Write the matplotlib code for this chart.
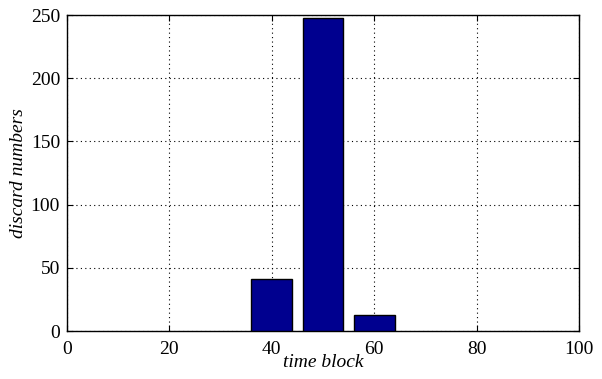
import matplotlib
matplotlib.use("Agg")
import matplotlib.pyplot as plt

time_block = [40, 50, 60]
discard = [41, 248, 13]

plt.rcParams["font.family"] = ["Liberation Serif", "DejaVu Serif"]

fig = plt.figure(figsize=(6.02, 3.79), dpi=100)
ax = fig.add_axes([0.1113, 0.1266, 0.8505, 0.8338])

ax.bar(time_block, discard, width=8, color="#00008F", edgecolor="black", linewidth=1.0, zorder=3)

ax.set_xlim(0, 100)
ax.set_ylim(0, 250)
ax.set_xticks([0, 20, 40, 60, 80, 100])
ax.set_yticks([0, 50, 100, 150, 200, 250])
ax.tick_params(direction="in", labelsize=14, length=4, top=True, right=True)
ax.tick_params(axis="x", pad=7)
ax.tick_params(axis="y", pad=5)
ax.grid(True, color="black", linestyle=(0, (1, 3)), linewidth=0.8, zorder=0)
for s in ax.spines.values():
    s.set_linewidth(1.0)

ax.set_xlabel("time block", fontsize=14, style="italic", labelpad=-3)
ax.set_ylabel("discard numbers", fontsize=14, style="italic", labelpad=3)

fig.savefig("out.png", dpi=100)
